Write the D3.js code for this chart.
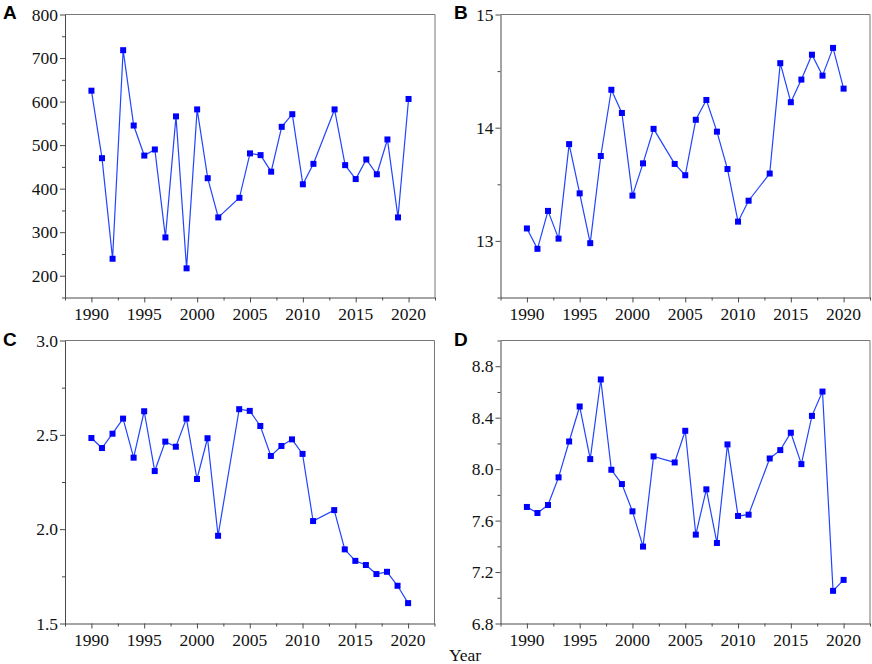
<!DOCTYPE html>
<html>
<head>
<meta charset="utf-8">
<script src="https://cdn.jsdelivr.net/npm/d3@7"></script>
<style>
  body { margin: 0; background: #fff; }
  svg { display: block; }
</style>
</head>
<body>
<svg id="s"></svg>
<script>
// years (2003 and 2012 are missing in every panel)
var years = [1990,1991,1992,1993,1994,1995,1996,1997,1998,1999,2000,2001,2002,
  2004,2005,2006,2007,2008,2009,2010,2011,2013,2014,2015,2016,2017,2018,2019,2020];

var seriesA = [625,470,239,718,545,476,490,288,566,217,582,424,334,
  379,481,477,439,542,571,410,457,582,454,422,467,433,513,334,606];
var seriesB = [13.11,12.93,13.265,13.02,13.855,13.42,12.98,13.75,14.335,14.13,13.40,13.685,13.99,
  13.68,13.58,14.07,14.245,13.965,13.635,13.17,13.355,13.595,14.57,14.225,14.425,14.645,14.46,14.705,14.345];
var seriesC = [2.483,2.43,2.506,2.586,2.379,2.625,2.308,2.464,2.437,2.586,2.266,2.482,1.965,
  2.636,2.627,2.547,2.388,2.441,2.476,2.399,2.043,2.101,1.893,1.832,1.81,1.762,1.774,1.70,1.608];
var seriesD = [7.706,7.659,7.721,7.936,8.215,8.487,8.078,8.697,7.995,7.884,7.672,7.398,8.099,
  8.052,8.298,7.491,7.843,7.426,8.192,7.636,7.646,8.083,8.148,8.283,8.039,8.414,8.603,7.054,7.139];

var xMajor = [1990,1995,2000,2005,2010,2015,2020];
var xMinor = [1987.5,1992.5,1997.5,2002.5,2007.5,2012.5,2017.5,2022.5];

var yMajorA = [200,300,400,500,600,700,800];
var yMinorA = [150,250,350,450,550,650,750];
var yMajorB = [13,14,15];
var yMinorB = [12.5,13.5,14.5];
var yMajorC = [1.5,2.0,2.5,3.0];
var yMinorC = [1.75,2.25,2.75];
var yMajorD = [6.8,7.2,7.6,8.0,8.4,8.8];
var yMinorD = [7.0,7.4,7.8,8.2,8.6,9.0];

var W = 872, H = 664;
var serif = 'Liberation Serif, Times New Roman, serif';
var fs = 17.5;
var svg = d3.select('#s').attr('width', W).attr('height', H);

var panels = [
  {label:'A', vals:seriesA, dom:[150,800], maj:yMajorA, min:yMinorA, fmt:d3.format('d'),
   l:65, r:435, t:14.5, b:297.5, lx:3, ly:19},
  {label:'B', vals:seriesB, dom:[12.5,15], maj:yMajorB, min:yMinorB, fmt:d3.format('d'),
   l:500.5, r:870, t:14.5, b:297.5, lx:454, ly:19},
  {label:'C', vals:seriesC, dom:[1.5,3.0], maj:yMajorC, min:yMinorC, fmt:d3.format('.1f'),
   l:65, r:434.5, t:340.5, b:623.5, lx:3, ly:346},
  {label:'D', vals:seriesD, dom:[6.8,9.0], maj:yMajorD, min:yMinorD, fmt:d3.format('.1f'),
   l:500.5, r:870, t:340.5, b:623.5, lx:454, ly:346}
];

function lineColor(sel){
  sel.selectAll('path, line').attr('stroke', '#4a4a4a');
}

panels.forEach(function(p){
  var x = d3.scaleLinear().domain([1987.5, 2022.5]).range([p.l, p.r]);
  var y = d3.scaleLinear().domain(p.dom).range([p.b, p.t]);
  var g = svg.append('g');

  // frame (top and right)
  g.append('path')
    .attr('d', 'M' + p.l + ',' + p.t + 'H' + p.r + 'V' + p.b)
    .attr('fill', 'none').attr('stroke', '#777').attr('stroke-width', 1);

  // x axis (ticks only, labels drawn below)
  g.append('g').attr('transform', 'translate(0,' + p.b + ')')
    .call(d3.axisBottom(x).tickValues(xMajor).tickFormat('').tickSize(5).tickSizeOuter(0))
    .call(lineColor);
  g.append('g').attr('transform', 'translate(0,' + p.b + ')')
    .call(d3.axisBottom(x).tickValues(xMinor).tickFormat('').tickSize(3).tickSizeOuter(0))
    .call(lineColor)
    .select('.domain').remove();

  // y axis
  g.append('g').attr('transform', 'translate(' + p.l + ',0)')
    .call(d3.axisLeft(y).tickValues(p.maj).tickFormat('').tickSize(5).tickSizeOuter(0))
    .call(lineColor);
  g.append('g').attr('transform', 'translate(' + p.l + ',0)')
    .call(d3.axisLeft(y).tickValues(p.min).tickFormat('').tickSize(3).tickSizeOuter(0))
    .call(lineColor)
    .select('.domain').remove();

  // tick labels
  g.selectAll('text.xl').data(xMajor).enter().append('text')
    .attr('class', 'xl')
    .attr('x', function(d){ return x(d); })
    .attr('y', p.b + 22.5)
    .attr('text-anchor', 'middle')
    .attr('font-family', serif).attr('font-size', fs).attr('fill', '#111')
    .text(d3.format('d'));
  g.selectAll('text.yl').data(p.maj).enter().append('text')
    .attr('class', 'yl')
    .attr('x', p.l - 7)
    .attr('y', function(d){ return y(d) + 6; })
    .attr('text-anchor', 'end')
    .attr('font-family', serif).attr('font-size', fs).attr('fill', '#111')
    .text(p.fmt);

  // series line
  var pts = years.map(function(yr, i){ return [yr, p.vals[i]]; });
  var line = d3.line().x(function(d){ return x(d[0]); }).y(function(d){ return y(d[1]); });
  g.append('path').datum(pts)
    .attr('d', line)
    .attr('fill', 'none').attr('stroke', '#2244ff').attr('stroke-width', 1.2);

  g.selectAll('rect.m').data(pts).enter().append('rect')
    .attr('class', 'm')
    .attr('x', function(d){ return x(d[0]) - 3; })
    .attr('y', function(d){ return y(d[1]) - 3; })
    .attr('width', 6).attr('height', 6)
    .attr('fill', '#0000ff');

  // panel letter
  svg.append('text').text(p.label)
    .attr('x', p.lx).attr('y', p.ly)
    .attr('font-family', 'Liberation Sans, Arial, sans-serif')
    .attr('font-weight', 'bold').attr('font-size', 19)
    .attr('fill', '#000');
});

svg.append('text').text('Year')
  .attr('x', 465).attr('y', 661)
  .attr('text-anchor', 'middle')
  .attr('font-family', serif)
  .attr('font-size', 17.5)
  .attr('fill', '#111');
</script>
</body>
</html>
